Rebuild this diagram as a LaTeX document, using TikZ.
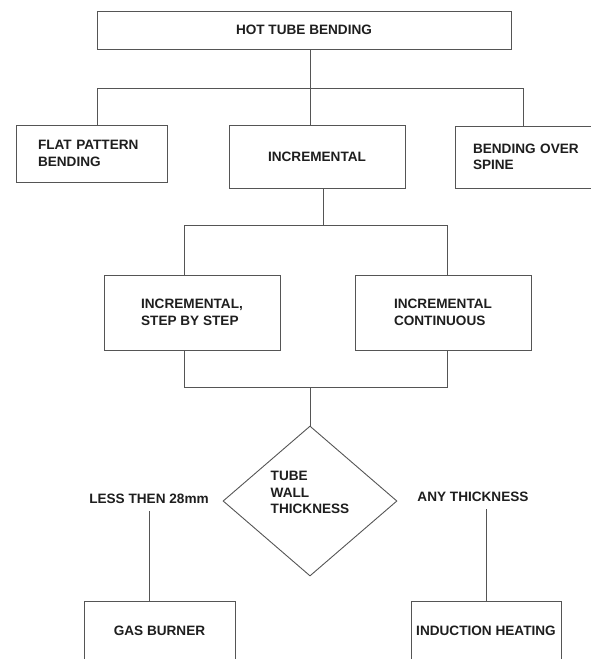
\documentclass[tikz,border=0pt]{standalone}
\usepackage{fontspec}
\setmainfont{Liberation Sans}
\usetikzlibrary{shapes.geometric}
\definecolor{lineGray}{RGB}{85,85,85}
\definecolor{textDark}{RGB}{30,30,30}

\begin{document}
\begin{tikzpicture}[x=1pt, y=-1pt, text=textDark,
  font=\bfseries\fontsize{13.6}{16.5}\selectfont,
  box/.style={rectangle, draw=lineGray, line width=0.9pt, align=left, inner sep=0pt},
  decision/.style={diamond, draw=lineGray, line width=0.9pt, align=left, inner sep=0pt},
  branch/.style={inner xsep=0pt, inner ysep=7pt},
  link/.style={draw=lineGray, line width=0.9pt}]
	\useasboundingbox (0,0) rectangle (591,659);
	\clip (0,0) rectangle (591,659);

	% Top level
	\node[box, minimum width=414pt, minimum height=38pt] (hot) at (304,30) {HOT TUBE BENDING};

	% Methods
	\node[box, minimum width=151pt, minimum height=57pt, text width=107pt] (flat) at (91.5,153.5) {FLAT PATTERN\\BENDING};
	\node[box, minimum width=176pt, minimum height=63pt] (incr) at (317,156.5) {INCREMENTAL};
	\node[box, minimum width=142pt, minimum height=62pt, text width=106pt] (spine) at (526,157) {BENDING OVER\\SPINE};

	% Incremental variants
	\node[box, minimum width=176pt, minimum height=75pt] (step) at (192,312.5) {INCREMENTAL,\\STEP BY STEP};
	\node[box, minimum width=176pt, minimum height=75pt] (cont) at (443,312.5) {INCREMENTAL\\CONTINUOUS};

	% Decision (empty last line lifts the text a little)
	\node[decision, minimum width=174pt, minimum height=150pt] (thick) at (310,501) {TUBE\\WALL\\THICKNESS\\\mbox{}};
	\node[branch] (less) at (149,499) {LESS THEN 28mm};
	\node[branch] (any) at (473,497) {ANY THICKNESS};

	% Heating
	\node[box, minimum width=151pt, minimum height=60pt] (gas) at (159.5,631) {GAS BURNER};
	\node[box, minimum width=150pt, minimum height=60pt] (ind) at (486,631) {INDUCTION HEATING};

	% Junctions
	\coordinate (j1) at (310,88);
	\coordinate (b1l) at (97,88);
	\coordinate (b1r) at (523,88);
	\coordinate (j2) at (323,225);
	\coordinate (b2l) at (184,225);
	\coordinate (b2r) at (447,225);
	\coordinate (j3) at (310,387);
	\coordinate (b3l) at (184,387);
	\coordinate (b3r) at (447,387);

	% Connectors
	\draw[link] (hot.south -| j1) -- (j1 |- incr.north);
	\draw[link] (b1l |- flat.north) -- (b1l) -- (b1r) -- (b1r |- spine.north);
	\draw[link] (incr.south -| j2) -- (j2);
	\draw[link] (b2l |- step.north) -- (b2l) -- (b2r) -- (b2r |- cont.north);
	\draw[link] (b3l |- step.south) -- (b3l) -- (b3r) -- (b3r |- cont.south);
	\draw[link] (j3) -- (thick.north);
	\draw[link] (less.south) -- (less.south |- gas.north);
	\draw[link] (ind.north |- any.south) -- (ind.north);
\end{tikzpicture}
\end{document}
